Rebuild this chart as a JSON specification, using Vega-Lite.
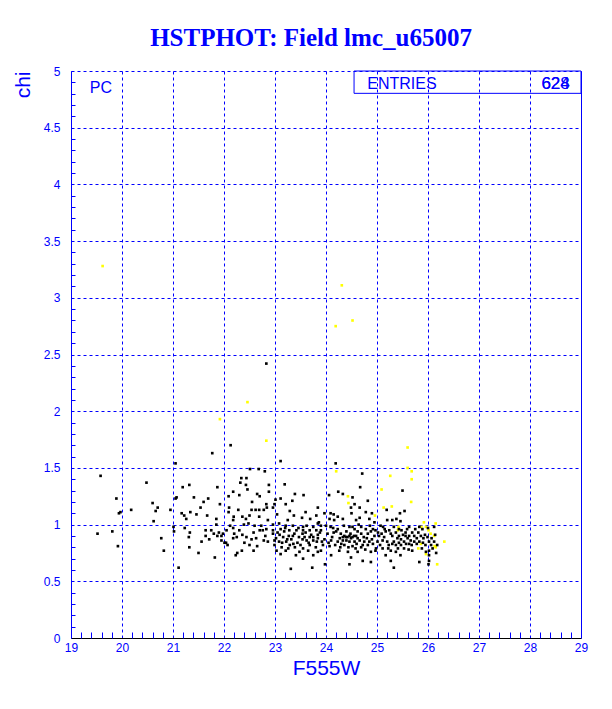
{
  "$schema": "https://vega.github.io/schema/vega-lite/v6.json",
  "width": 510,
  "height": 567,
  "autosize": {"type": "none"},
  "padding": {"left": 71, "top": 71, "right": 31, "bottom": 71},
  "background": "white",
  "title": {"text": "HSTPHOT: Field lmc_u65007", "font": "Liberation Serif", "fontSize": 25, "fontWeight": "bold", "color": "#0000ff", "anchor": "middle", "dx": -15, "dy": 24, "offset": 18, "baseline": "alphabetic"},
  "config": {
    "view": {"stroke": null},
    "axis": {"labelFont": "Liberation Sans", "titleFont": "Liberation Sans", "labelColor": "#0000ff", "titleColor": "#0000ff", "titleFontWeight": "normal", "labelFontSize": 12}
  },
  "datasets": {
    "box": [{"x": 24.55, "x2": 29, "y": 4.803, "y2": 5}],
    "notesLeft": [{"x": 24.81, "y": 4.838, "label": "ENTRIES"}, {"x": 19.37, "y": 4.806, "label": "PC"}],
    "notesRight": [{"x": 28.78, "y": 4.838, "label": "628"}, {"x": 28.78, "y": 4.838, "label": "624"}],
    "stars": [
      {"mag":19.62,"chi":3.28,"cls":"y"},{"mag":24.31,"chi":3.11,"cls":"y"},{"mag":24.52,"chi":2.80,"cls":"y"},{"mag":24.19,"chi":2.75,"cls":"y"},{"mag":22.46,"chi":2.08,"cls":"y"},{"mag":21.92,"chi":1.93,"cls":"y"},{"mag":22.83,"chi":1.74,"cls":"y"},{"mag":25.60,"chi":1.68,"cls":"y"},{"mag":24.20,"chi":1.47,"cls":"y"},{"mag":25.60,"chi":1.50,"cls":"y"},{"mag":25.68,"chi":1.47,"cls":"y"},{"mag":25.68,"chi":1.40,"cls":"y"},{"mag":25.26,"chi":1.43,"cls":"y"},{"mag":25.09,"chi":1.31,"cls":"y"},{"mag":25.67,"chi":1.20,"cls":"y"},{"mag":25.29,"chi":1.16,"cls":"y"},{"mag":25.13,"chi":1.15,"cls":"y"},{"mag":25.92,"chi":1.02,"cls":"y"},{"mag":26.15,"chi":1.01,"cls":"y"},{"mag":25.42,"chi":0.98,"cls":"y"},{"mag":25.96,"chi":0.98,"cls":"y"},{"mag":26.01,"chi":0.95,"cls":"y"},{"mag":26.05,"chi":0.92,"cls":"y"},{"mag":25.86,"chi":0.83,"cls":"y"},{"mag":26.32,"chi":0.85,"cls":"y"},{"mag":25.81,"chi":0.79,"cls":"y"},{"mag":26.15,"chi":0.80,"cls":"y"},{"mag":26.18,"chi":0.65,"cls":"y"},{"mag":24.43,"chi":1.25,"cls":"y"},{"mag":24.44,"chi":1.19,"cls":"y"},{"mag":24.96,"chi":1.08,"cls":"y"},{"mag":25.87,"chi":0.98,"cls":"y"},{"mag":26.12,"chi":0.90,"cls":"y"},{"mag":25.96,"chi":0.74,"cls":"y"},{"mag":25.41,"chi":0.95,"cls":"y"},{"mag":26.13,"chi":0.81,"cls":"y"},
      {"mag":22.83,"chi":2.42,"cls":"b"},{"mag":22.13,"chi":1.70,"cls":"b"},{"mag":21.77,"chi":1.63,"cls":"b"},{"mag":21.05,"chi":1.54,"cls":"b"},{"mag":19.58,"chi":1.43,"cls":"b"},{"mag":20.48,"chi":1.37,"cls":"b"},{"mag":22.51,"chi":1.49,"cls":"b"},{"mag":22.68,"chi":1.49,"cls":"b"},{"mag":22.80,"chi":1.47,"cls":"b"},{"mag":22.34,"chi":1.41,"cls":"b"},{"mag":22.44,"chi":1.41,"cls":"b"},{"mag":22.32,"chi":1.37,"cls":"b"},{"mag":22.43,"chi":1.35,"cls":"b"},{"mag":21.32,"chi":1.35,"cls":"b"},{"mag":21.87,"chi":1.33,"cls":"b"},{"mag":21.19,"chi":1.33,"cls":"b"},{"mag":22.88,"chi":1.35,"cls":"b"},{"mag":22.46,"chi":1.31,"cls":"b"},{"mag":22.18,"chi":1.29,"cls":"b"},{"mag":21.07,"chi":1.24,"cls":"b"},{"mag":21.05,"chi":1.23,"cls":"b"},{"mag":21.41,"chi":1.24,"cls":"b"},{"mag":21.69,"chi":1.23,"cls":"b"},{"mag":21.60,"chi":1.20,"cls":"b"},{"mag":19.89,"chi":1.23,"cls":"b"},{"mag":22.09,"chi":1.25,"cls":"b"},{"mag":22.30,"chi":1.26,"cls":"b"},{"mag":22.65,"chi":1.27,"cls":"b"},{"mag":20.60,"chi":1.19,"cls":"b"},{"mag":20.70,"chi":1.15,"cls":"b"},{"mag":20.66,"chi":1.12,"cls":"b"},{"mag":20.18,"chi":1.13,"cls":"b"},{"mag":19.97,"chi":1.11,"cls":"b"},{"mag":19.94,"chi":1.10,"cls":"b"},{"mag":20.95,"chi":1.13,"cls":"b"},{"mag":21.17,"chi":1.10,"cls":"b"},{"mag":21.34,"chi":1.11,"cls":"b"},{"mag":21.46,"chi":1.09,"cls":"b"},{"mag":21.54,"chi":1.15,"cls":"b"},{"mag":21.67,"chi":1.08,"cls":"b"},{"mag":21.22,"chi":1.08,"cls":"b"},{"mag":21.26,"chi":1.05,"cls":"b"},{"mag":20.62,"chi":1.03,"cls":"b"},{"mag":21.85,"chi":1.05,"cls":"b"},{"mag":22.09,"chi":1.11,"cls":"b"},{"mag":22.19,"chi":1.07,"cls":"b"},{"mag":22.18,"chi":1.04,"cls":"b"},{"mag":22.36,"chi":1.07,"cls":"b"},{"mag":22.43,"chi":1.05,"cls":"b"},{"mag":22.50,"chi":1.08,"cls":"b"},{"mag":22.54,"chi":1.13,"cls":"b"},{"mag":22.62,"chi":1.13,"cls":"b"},{"mag":22.69,"chi":1.13,"cls":"b"},{"mag":22.84,"chi":1.15,"cls":"b"},{"mag":22.69,"chi":1.07,"cls":"b"},{"mag":22.39,"chi":1.00,"cls":"b"},{"mag":22.48,"chi":1.01,"cls":"b"},{"mag":21.01,"chi":0.98,"cls":"b"},{"mag":21.02,"chi":0.94,"cls":"b"},{"mag":21.23,"chi":0.97,"cls":"b"},{"mag":21.33,"chi":0.93,"cls":"b"},{"mag":19.81,"chi":0.94,"cls":"b"},{"mag":19.52,"chi":0.92,"cls":"b"},{"mag":21.64,"chi":0.95,"cls":"b"},{"mag":21.80,"chi":0.92,"cls":"b"},{"mag":21.90,"chi":0.93,"cls":"b"},{"mag":21.95,"chi":0.90,"cls":"b"},{"mag":21.98,"chi":0.92,"cls":"b"},{"mag":21.64,"chi":0.90,"cls":"b"},{"mag":21.71,"chi":0.87,"cls":"b"},{"mag":21.87,"chi":0.90,"cls":"b"},{"mag":21.31,"chi":0.89,"cls":"b"},{"mag":20.77,"chi":0.88,"cls":"b"},{"mag":22.18,"chi":0.97,"cls":"b"},{"mag":22.20,"chi":0.92,"cls":"b"},{"mag":22.25,"chi":0.89,"cls":"b"},{"mag":22.18,"chi":0.88,"cls":"b"},{"mag":22.36,"chi":0.91,"cls":"b"},{"mag":22.44,"chi":0.89,"cls":"b"},{"mag":22.54,"chi":0.87,"cls":"b"},{"mag":22.63,"chi":0.88,"cls":"b"},{"mag":22.81,"chi":0.90,"cls":"b"},{"mag":22.01,"chi":0.84,"cls":"b"},{"mag":22.04,"chi":0.84,"cls":"b"},{"mag":22.07,"chi":0.82,"cls":"b"},{"mag":21.56,"chi":0.85,"cls":"b"},{"mag":19.92,"chi":0.81,"cls":"b"},{"mag":21.32,"chi":0.80,"cls":"b"},{"mag":20.82,"chi":0.77,"cls":"b"},{"mag":21.50,"chi":0.75,"cls":"b"},{"mag":21.82,"chi":0.71,"cls":"b"},{"mag":22.23,"chi":0.73,"cls":"b"},{"mag":22.26,"chi":0.75,"cls":"b"},{"mag":22.35,"chi":0.77,"cls":"b"},{"mag":22.50,"chi":0.82,"cls":"b"},{"mag":22.65,"chi":0.81,"cls":"b"},{"mag":21.11,"chi":0.62,"cls":"b"},
      {"mag":23.11,"chi":1.56,"cls":"b"},{"mag":24.19,"chi":1.54,"cls":"b"},{"mag":24.71,"chi":1.45,"cls":"b"},
      {"mag":23.19,"chi":1.355,"cls":"b"},{"mag":22.88,"chi":1.29,"cls":"b"},{"mag":23.39,"chi":1.27,"cls":"b"},{"mag":23.56,"chi":1.26,"cls":"b"},{"mag":22.70,"chi":1.25,"cls":"b"},{"mag":23.11,"chi":1.23,"cls":"b"},{"mag":23.01,"chi":1.22,"cls":"b"},{"mag":23.34,"chi":1.21,"cls":"b"},{"mag":22.83,"chi":1.18,"cls":"b"},{"mag":22.99,"chi":1.18,"cls":"b"},{"mag":23.21,"chi":1.18,"cls":"b"},{"mag":22.78,"chi":1.13,"cls":"b"},{"mag":22.96,"chi":1.15,"cls":"b"},{"mag":23.29,"chi":1.12,"cls":"b"},{"mag":23.37,"chi":1.08,"cls":"b"},{"mag":23.60,"chi":1.11,"cls":"b"},{"mag":23.04,"chi":1.09,"cls":"b"},{"mag":23.81,"chi":1.08,"cls":"b"},{"mag":23.53,"chi":1.06,"cls":"b"},{"mag":23.69,"chi":1.05,"cls":"b"},{"mag":22.86,"chi":1.04,"cls":"b"},{"mag":23.25,"chi":1.04,"cls":"b"},{"mag":23.08,"chi":1.01,"cls":"b"},{"mag":23.86,"chi":1.02,"cls":"b"},{"mag":22.73,"chi":0.99,"cls":"b"},{"mag":22.96,"chi":1.00,"cls":"b"},{"mag":23.21,"chi":0.99,"cls":"b"},{"mag":23.35,"chi":0.99,"cls":"b"},{"mag":23.55,"chi":0.98,"cls":"b"},{"mag":23.75,"chi":0.98,"cls":"b"},{"mag":22.70,"chi":0.95,"cls":"b"},{"mag":22.76,"chi":0.95,"cls":"b"},{"mag":22.83,"chi":0.96,"cls":"b"},{"mag":22.96,"chi":0.95,"cls":"b"},{"mag":23.11,"chi":0.96,"cls":"b"},{"mag":23.28,"chi":0.95,"cls":"b"},{"mag":23.42,"chi":0.95,"cls":"b"},{"mag":23.55,"chi":0.95,"cls":"b"},{"mag":23.68,"chi":0.95,"cls":"b"},{"mag":23.81,"chi":0.95,"cls":"b"},{"mag":22.96,"chi":0.92,"cls":"b"},{"mag":23.09,"chi":0.91,"cls":"b"},{"mag":23.16,"chi":0.89,"cls":"b"},{"mag":23.27,"chi":0.90,"cls":"b"},{"mag":23.35,"chi":0.90,"cls":"b"},{"mag":23.54,"chi":0.92,"cls":"b"},{"mag":23.68,"chi":0.89,"cls":"b"},{"mag":23.75,"chi":0.89,"cls":"b"},{"mag":23.84,"chi":0.91,"cls":"b"},{"mag":22.78,"chi":0.86,"cls":"b"},{"mag":22.86,"chi":0.85,"cls":"b"},{"mag":22.99,"chi":0.86,"cls":"b"},{"mag":23.08,"chi":0.85,"cls":"b"},{"mag":23.22,"chi":0.85,"cls":"b"},{"mag":23.32,"chi":0.87,"cls":"b"},{"mag":23.44,"chi":0.84,"cls":"b"},{"mag":23.54,"chi":0.87,"cls":"b"},{"mag":23.62,"chi":0.86,"cls":"b"},{"mag":23.75,"chi":0.86,"cls":"b"},{"mag":23.82,"chi":0.85,"cls":"b"},{"mag":22.99,"chi":0.82,"cls":"b"},{"mag":23.13,"chi":0.80,"cls":"b"},{"mag":23.29,"chi":0.82,"cls":"b"},{"mag":23.39,"chi":0.80,"cls":"b"},{"mag":23.55,"chi":0.79,"cls":"b"},{"mag":23.68,"chi":0.82,"cls":"b"},{"mag":23.80,"chi":0.80,"cls":"b"},{"mag":23.03,"chi":0.77,"cls":"b"},{"mag":23.21,"chi":0.77,"cls":"b"},{"mag":23.11,"chi":0.74,"cls":"b"},{"mag":23.48,"chi":0.76,"cls":"b"},{"mag":23.65,"chi":0.77,"cls":"b"},{"mag":23.84,"chi":0.76,"cls":"b"},{"mag":23.41,"chi":0.73,"cls":"b"},{"mag":23.75,"chi":0.73,"cls":"b"},{"mag":23.55,"chi":0.70,"cls":"b"},{"mag":23.31,"chi":0.61,"cls":"b"},{"mag":23.73,"chi":0.62,"cls":"b"},
      {"mag":24.67,"chi":1.33,"cls":"b"},{"mag":24.24,"chi":1.29,"cls":"b"},{"mag":24.33,"chi":1.27,"cls":"b"},{"mag":24.06,"chi":1.26,"cls":"b"},{"mag":24.52,"chi":1.24,"cls":"b"},{"mag":24.56,"chi":1.18,"cls":"b"},{"mag":24.82,"chi":1.21,"cls":"b"},{"mag":23.84,"chi":1.15,"cls":"b"},{"mag":24.49,"chi":1.15,"cls":"b"},{"mag":24.66,"chi":1.15,"cls":"b"},{"mag":24.78,"chi":1.11,"cls":"b"},{"mag":24.90,"chi":1.10,"cls":"b"},{"mag":23.97,"chi":1.10,"cls":"b"},{"mag":24.09,"chi":1.10,"cls":"b"},{"mag":24.15,"chi":1.09,"cls":"b"},{"mag":24.23,"chi":1.07,"cls":"b"},{"mag":24.50,"chi":1.10,"cls":"b"},{"mag":24.07,"chi":1.05,"cls":"b"},{"mag":24.16,"chi":1.04,"cls":"b"},{"mag":24.33,"chi":1.05,"cls":"b"},{"mag":24.59,"chi":1.04,"cls":"b"},{"mag":24.66,"chi":1.06,"cls":"b"},{"mag":24.85,"chi":1.05,"cls":"b"},{"mag":24.95,"chi":1.02,"cls":"b"},{"mag":23.84,"chi":1.01,"cls":"b"},{"mag":24.00,"chi":0.99,"cls":"b"},{"mag":24.09,"chi":0.98,"cls":"b"},{"mag":24.23,"chi":0.96,"cls":"b"},{"mag":24.46,"chi":0.98,"cls":"b"},{"mag":24.56,"chi":0.96,"cls":"b"},{"mag":24.69,"chi":0.98,"cls":"b"},{"mag":24.78,"chi":0.96,"cls":"b"},{"mag":24.92,"chi":0.96,"cls":"b"},{"mag":23.90,"chi":0.95,"cls":"b"},{"mag":24.15,"chi":0.93,"cls":"b"},{"mag":24.29,"chi":0.92,"cls":"b"},{"mag":24.36,"chi":0.90,"cls":"b"},{"mag":24.39,"chi":0.89,"cls":"b"},{"mag":24.46,"chi":0.90,"cls":"b"},{"mag":24.52,"chi":0.89,"cls":"b"},{"mag":24.59,"chi":0.90,"cls":"b"},{"mag":24.69,"chi":0.92,"cls":"b"},{"mag":24.82,"chi":0.92,"cls":"b"},{"mag":24.95,"chi":0.90,"cls":"b"},{"mag":23.84,"chi":0.88,"cls":"b"},{"mag":23.97,"chi":0.87,"cls":"b"},{"mag":24.10,"chi":0.86,"cls":"b"},{"mag":24.23,"chi":0.85,"cls":"b"},{"mag":24.33,"chi":0.86,"cls":"b"},{"mag":24.46,"chi":0.85,"cls":"b"},{"mag":24.56,"chi":0.85,"cls":"b"},{"mag":24.66,"chi":0.86,"cls":"b"},{"mag":24.75,"chi":0.85,"cls":"b"},{"mag":24.85,"chi":0.85,"cls":"b"},{"mag":24.92,"chi":0.83,"cls":"b"},{"mag":23.94,"chi":0.82,"cls":"b"},{"mag":24.07,"chi":0.81,"cls":"b"},{"mag":24.36,"chi":0.82,"cls":"b"},{"mag":24.44,"chi":0.80,"cls":"b"},{"mag":24.52,"chi":0.81,"cls":"b"},{"mag":24.69,"chi":0.80,"cls":"b"},{"mag":24.82,"chi":0.82,"cls":"b"},{"mag":24.98,"chi":0.79,"cls":"b"},{"mag":23.90,"chi":0.77,"cls":"b"},{"mag":24.26,"chi":0.77,"cls":"b"},{"mag":24.43,"chi":0.76,"cls":"b"},{"mag":24.62,"chi":0.76,"cls":"b"},{"mag":24.88,"chi":0.76,"cls":"b"},{"mag":24.10,"chi":0.73,"cls":"b"},{"mag":24.49,"chi":0.71,"cls":"b"},{"mag":24.72,"chi":0.68,"cls":"b"},{"mag":24.88,"chi":0.67,"cls":"b"},{"mag":23.98,"chi":0.65,"cls":"b"},{"mag":24.46,"chi":0.65,"cls":"b"},{"mag":24.42,"chi":0.89,"cls":"b"},{"mag":24.49,"chi":0.88,"cls":"b"},{"mag":24.55,"chi":0.90,"cls":"b"},{"mag":24.33,"chi":0.89,"cls":"b"},{"mag":24.62,"chi":0.88,"cls":"b"},
      {"mag":25.50,"chi":1.30,"cls":"b"},{"mag":25.19,"chi":1.13,"cls":"b"},{"mag":25.45,"chi":1.10,"cls":"b"},{"mag":25.54,"chi":1.12,"cls":"b"},{"mag":25.38,"chi":1.05,"cls":"b"},{"mag":25.30,"chi":1.04,"cls":"b"},{"mag":25.20,"chi":1.04,"cls":"b"},{"mag":25.46,"chi":1.03,"cls":"b"},{"mag":25.07,"chi":0.99,"cls":"b"},{"mag":25.12,"chi":0.98,"cls":"b"},{"mag":25.33,"chi":0.98,"cls":"b"},{"mag":25.63,"chi":0.98,"cls":"b"},{"mag":25.83,"chi":0.98,"cls":"b"},{"mag":25.89,"chi":0.96,"cls":"b"},{"mag":26.12,"chi":0.98,"cls":"b"},{"mag":24.97,"chi":0.95,"cls":"b"},{"mag":25.24,"chi":0.95,"cls":"b"},{"mag":25.37,"chi":0.93,"cls":"b"},{"mag":25.48,"chi":0.95,"cls":"b"},{"mag":25.56,"chi":0.93,"cls":"b"},{"mag":25.69,"chi":0.93,"cls":"b"},{"mag":25.81,"chi":0.93,"cls":"b"},{"mag":26.14,"chi":0.91,"cls":"b"},{"mag":25.04,"chi":0.90,"cls":"b"},{"mag":25.14,"chi":0.89,"cls":"b"},{"mag":25.30,"chi":0.90,"cls":"b"},{"mag":25.43,"chi":0.90,"cls":"b"},{"mag":25.56,"chi":0.90,"cls":"b"},{"mag":25.63,"chi":0.90,"cls":"b"},{"mag":25.73,"chi":0.90,"cls":"b"},{"mag":25.86,"chi":0.90,"cls":"b"},{"mag":25.94,"chi":0.91,"cls":"b"},{"mag":25.01,"chi":0.85,"cls":"b"},{"mag":25.11,"chi":0.86,"cls":"b"},{"mag":25.20,"chi":0.85,"cls":"b"},{"mag":25.33,"chi":0.85,"cls":"b"},{"mag":25.43,"chi":0.84,"cls":"b"},{"mag":25.53,"chi":0.85,"cls":"b"},{"mag":25.63,"chi":0.83,"cls":"b"},{"mag":25.73,"chi":0.85,"cls":"b"},{"mag":25.83,"chi":0.85,"cls":"b"},{"mag":26.02,"chi":0.85,"cls":"b"},{"mag":26.12,"chi":0.85,"cls":"b"},{"mag":26.18,"chi":0.82,"cls":"b"},{"mag":24.97,"chi":0.77,"cls":"b"},{"mag":25.11,"chi":0.79,"cls":"b"},{"mag":25.27,"chi":0.77,"cls":"b"},{"mag":25.37,"chi":0.76,"cls":"b"},{"mag":25.53,"chi":0.79,"cls":"b"},{"mag":25.69,"chi":0.77,"cls":"b"},{"mag":25.96,"chi":0.76,"cls":"b"},{"mag":26.02,"chi":0.77,"cls":"b"},{"mag":25.17,"chi":0.73,"cls":"b"},{"mag":25.46,"chi":0.73,"cls":"b"},{"mag":26.02,"chi":0.73,"cls":"b"},{"mag":25.27,"chi":0.68,"cls":"b"},{"mag":25.83,"chi":0.67,"cls":"b"},{"mag":26.02,"chi":0.68,"cls":"b"},{"mag":25.33,"chi":0.62,"cls":"b"},{"mag":26.16,"chi":0.75,"cls":"b"},{"mag":26.01,"chi":0.65,"cls":"b"},
      {"mag":23.05,"chi":0.93,"cls":"b"},{"mag":23.18,"chi":0.94,"cls":"b"},{"mag":23.24,"chi":0.87,"cls":"b"},{"mag":23.38,"chi":0.92,"cls":"b"},{"mag":23.47,"chi":0.89,"cls":"b"},{"mag":23.60,"chi":0.93,"cls":"b"},{"mag":23.71,"chi":0.91,"cls":"b"},{"mag":23.88,"chi":0.93,"cls":"b"},{"mag":23.14,"chi":0.84,"cls":"b"},{"mag":23.36,"chi":0.83,"cls":"b"},{"mag":23.50,"chi":0.82,"cls":"b"},{"mag":23.66,"chi":0.84,"cls":"b"},{"mag":23.92,"chi":0.85,"cls":"b"},{"mag":23.20,"chi":0.97,"cls":"b"},{"mag":23.46,"chi":0.97,"cls":"b"},{"mag":23.62,"chi":0.99,"cls":"b"},{"mag":23.90,"chi":0.99,"cls":"b"},{"mag":23.02,"chi":0.88,"cls":"b"},{"mag":23.58,"chi":0.89,"cls":"b"},{"mag":23.26,"chi":0.79,"cls":"b"},
      {"mag":24.03,"chi":0.92,"cls":"b"},{"mag":24.12,"chi":0.89,"cls":"b"},{"mag":24.20,"chi":0.94,"cls":"b"},{"mag":24.27,"chi":0.88,"cls":"b"},{"mag":24.40,"chi":0.94,"cls":"b"},{"mag":24.48,"chi":0.92,"cls":"b"},{"mag":24.62,"chi":0.94,"cls":"b"},{"mag":24.74,"chi":0.89,"cls":"b"},{"mag":24.80,"chi":0.88,"cls":"b"},{"mag":24.88,"chi":0.94,"cls":"b"},{"mag":24.05,"chi":0.84,"cls":"b"},{"mag":24.18,"chi":0.82,"cls":"b"},{"mag":24.30,"chi":0.83,"cls":"b"},{"mag":24.40,"chi":0.86,"cls":"b"},{"mag":24.60,"chi":0.83,"cls":"b"},{"mag":24.72,"chi":0.82,"cls":"b"},{"mag":24.90,"chi":0.87,"cls":"b"},{"mag":24.14,"chi":0.97,"cls":"b"},{"mag":24.35,"chi":0.99,"cls":"b"},{"mag":24.52,"chi":0.98,"cls":"b"},{"mag":24.64,"chi":1.00,"cls":"b"},{"mag":24.86,"chi":0.99,"cls":"b"},{"mag":24.28,"chi":0.80,"cls":"b"},{"mag":24.58,"chi":0.79,"cls":"b"},{"mag":24.77,"chi":0.78,"cls":"b"},
      {"mag":25.02,"chi":0.93,"cls":"b"},{"mag":25.09,"chi":0.92,"cls":"b"},{"mag":25.17,"chi":0.94,"cls":"b"},{"mag":25.27,"chi":0.92,"cls":"b"},{"mag":25.40,"chi":0.88,"cls":"b"},{"mag":25.47,"chi":0.87,"cls":"b"},{"mag":25.51,"chi":0.91,"cls":"b"},{"mag":25.60,"chi":0.88,"cls":"b"},{"mag":25.66,"chi":0.86,"cls":"b"},{"mag":25.78,"chi":0.88,"cls":"b"},{"mag":25.91,"chi":0.88,"cls":"b"},{"mag":25.99,"chi":0.89,"cls":"b"},{"mag":26.07,"chi":0.88,"cls":"b"},{"mag":25.06,"chi":0.82,"cls":"b"},{"mag":25.23,"chi":0.82,"cls":"b"},{"mag":25.30,"chi":0.83,"cls":"b"},{"mag":25.37,"chi":0.82,"cls":"b"},{"mag":25.47,"chi":0.82,"cls":"b"},{"mag":25.57,"chi":0.83,"cls":"b"},{"mag":25.68,"chi":0.82,"cls":"b"},{"mag":25.78,"chi":0.83,"cls":"b"},{"mag":25.90,"chi":0.84,"cls":"b"},{"mag":26.06,"chi":0.82,"cls":"b"},{"mag":25.15,"chi":0.96,"cls":"b"},{"mag":25.43,"chi":0.96,"cls":"b"},{"mag":25.59,"chi":0.96,"cls":"b"},{"mag":25.75,"chi":0.96,"cls":"b"},{"mag":26.00,"chi":0.97,"cls":"b"},{"mag":25.22,"chi":0.79,"cls":"b"},{"mag":25.41,"chi":0.79,"cls":"b"},{"mag":25.62,"chi":0.78,"cls":"b"},{"mag":25.88,"chi":0.79,"cls":"b"},{"mag":26.09,"chi":0.79,"cls":"b"},{"mag":25.95,"chi":0.82,"cls":"b"},
      {"mag":21.75,"chi":0.95,"cls":"b"},{"mag":22.05,"chi":0.95,"cls":"b"},{"mag":22.30,"chi":0.95,"cls":"b"},{"mag":22.58,"chi":0.93,"cls":"b"},{"mag":21.85,"chi":1.00,"cls":"b"},{"mag":22.12,"chi":0.99,"cls":"b"},{"mag":22.60,"chi":0.99,"cls":"b"},{"mag":21.95,"chi":0.86,"cls":"b"},{"mag":22.40,"chi":0.84,"cls":"b"},{"mag":22.58,"chi":0.77,"cls":"b"},{"mag":22.10,"chi":1.15,"cls":"b"},{"mag":22.28,"chi":1.13,"cls":"b"},{"mag":21.92,"chi":1.18,"cls":"b"},{"mag":22.55,"chi":1.20,"cls":"b"}
    ]
  },
  "resolve": {"axis": {"x": "independent", "y": "independent"}},
  "layer": [
    {
      "data": {"name": "stars"},
      "mark": {"type": "square", "size": 7, "opacity": 1, "strokeWidth": 0},
      "encoding": {
        "x": {"field": "mag", "type": "quantitative", "scale": {"domain": [19, 29], "nice": false, "zero": false},
          "axis": {"orient": "bottom", "values": [19, 20, 21, 22, 23, 24, 25, 26, 27, 28, 29], "grid": true, "gridColor": "#0000ff", "gridDash": [3, 3], "gridWidth": 1, "gridOpacity": 1, "ticks": false, "tickSize": 0, "labelPadding": 4, "labelFlush": false, "domain": true, "domainColor": "#000000", "domainWidth": 1, "title": "F555W", "titleFontSize": 21, "titlePadding": 4}},
        "y": {"field": "chi", "type": "quantitative", "scale": {"domain": [0, 5], "nice": false, "zero": false},
          "axis": {"orient": "left", "values": [0, 0.5, 1, 1.5, 2, 2.5, 3, 3.5, 4, 4.5, 5], "labelExpr": "'' + datum.value", "grid": true, "gridColor": "#0000ff", "gridDash": [3, 3], "gridWidth": 1, "gridOpacity": 1, "ticks": false, "tickSize": 0, "labelPadding": 11, "labelFlush": false, "domain": true, "domainColor": "#0000ff", "domainWidth": 1, "title": "chi", "titleFontSize": 21, "titleAngle": -90, "titleX": -42, "titleY": 0, "titleAlign": "right", "titleBaseline": "alphabetic"}},
        "color": {"field": "cls", "type": "nominal", "scale": {"domain": ["b", "y"], "range": ["#000000", "#ffff00"]}, "legend": null}
      }
    },
    {
      "data": {"name": "box"},
      "mark": {"type": "rect", "filled": false, "color": "#0000ff", "strokeWidth": 1},
      "encoding": {
        "x": {"field": "x", "type": "quantitative", "axis": {"orient": "bottom", "values": [19.2,19.4,19.6,19.8,20.2,20.4,20.6,20.8,21.2,21.4,21.6,21.8,22.2,22.4,22.6,22.8,23.2,23.4,23.6,23.8,24.2,24.4,24.6,24.8,25.2,25.4,25.6,25.8,26.2,26.4,26.6,26.8,27.2,27.4,27.6,27.8,28.2,28.4,28.6,28.8], "grid": false, "labels": false, "domain": false, "ticks": true, "tickSize": -6, "tickColor": "#0000ff", "tickWidth": 1, "title": null}},
        "x2": {"field": "x2"},
        "y": {"field": "y", "type": "quantitative", "axis": {"orient": "left", "values": [0.1,0.2,0.3,0.4,0.6,0.7,0.8,0.9,1.1,1.2,1.3,1.4,1.6,1.7,1.8,1.9,2.1,2.2,2.3,2.4,2.6,2.7,2.8,2.9,3.1,3.2,3.3,3.4,3.6,3.7,3.8,3.9,4.1,4.2,4.3,4.4,4.6,4.7,4.8,4.9], "grid": false, "labels": false, "domain": false, "ticks": true, "tickSize": -4, "tickColor": "#0000ff", "tickWidth": 1, "title": null}},
        "y2": {"field": "y2"}
      }
    },
    {
      "data": {"name": "notesLeft"},
      "mark": {"type": "text", "align": "left", "baseline": "alphabetic", "font": "Liberation Sans", "fontSize": 16, "color": "#0000ff"},
      "encoding": {
        "x": {"field": "x", "type": "quantitative", "axis": null},
        "y": {"field": "y", "type": "quantitative", "axis": {"orient": "right", "grid": false, "labels": false, "ticks": false, "domain": true, "domainColor": "#0000ff", "domainWidth": 1, "title": null}},
        "text": {"field": "label"}
      }
    },
    {
      "data": {"name": "notesRight"},
      "mark": {"type": "text", "align": "right", "baseline": "alphabetic", "font": "Liberation Sans", "fontSize": 17, "color": "#0000ff"},
      "encoding": {
        "x": {"field": "x", "type": "quantitative", "axis": null},
        "y": {"field": "y", "type": "quantitative", "axis": null},
        "text": {"field": "label"}
      }
    }
  ]
}
